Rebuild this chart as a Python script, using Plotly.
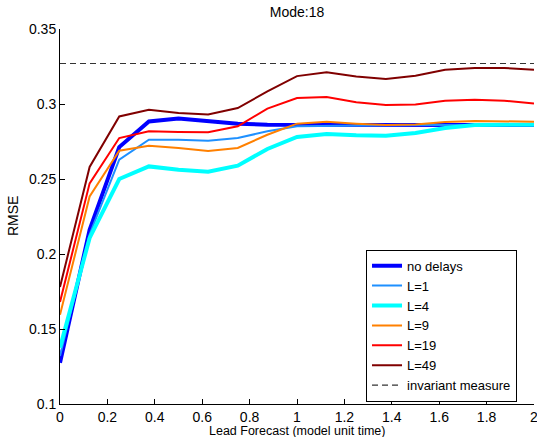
import plotly.graph_objects as go

lead = [0, 0.125, 0.25, 0.375, 0.5, 0.625, 0.75, 0.875, 1.0, 1.125, 1.25, 1.375, 1.5, 1.625, 1.75, 1.875, 2.0]

no_delays = [0.1275, 0.2162, 0.2713, 0.2884, 0.2904, 0.2889, 0.2869, 0.2862, 0.2862, 0.2860, 0.2860, 0.2860, 0.2860, 0.2860, 0.2860, 0.2860, 0.2860]
L1 = [0.1320, 0.2130, 0.2629, 0.2762, 0.2762, 0.2755, 0.2773, 0.2818, 0.2851, 0.2855, 0.2857, 0.2858, 0.2860, 0.2860, 0.2860, 0.2860, 0.2860]
L4 = [0.1375, 0.2107, 0.2500, 0.2584, 0.2562, 0.2549, 0.2589, 0.2700, 0.2780, 0.2800, 0.2791, 0.2789, 0.2807, 0.2840, 0.2860, 0.2860, 0.2862]
L9 = [0.1595, 0.2384, 0.2689, 0.2722, 0.2707, 0.2687, 0.2707, 0.2795, 0.2869, 0.2882, 0.2869, 0.2860, 0.2864, 0.2880, 0.2887, 0.2887, 0.2882]
L19 = [0.1680, 0.2471, 0.2773, 0.2818, 0.2813, 0.2812, 0.2851, 0.2969, 0.3040, 0.3047, 0.3011, 0.2993, 0.2997, 0.3022, 0.3029, 0.3022, 0.3004]
L49 = [0.1780, 0.2580, 0.2917, 0.2962, 0.2940, 0.2930, 0.2973, 0.3084, 0.3186, 0.3211, 0.3184, 0.3167, 0.3189, 0.3229, 0.3240, 0.3240, 0.3229]
invariant = 0.327

x_ticks = [0, 0.2, 0.4, 0.6, 0.8, 1, 1.2, 1.4, 1.6, 1.8, 2]
x_ticktext = ["0", "0.2", "0.4", "0.6", "0.8", "1", "1.2", "1.4", "1.6", "1.8", "2"]
y_ticks = [0.1, 0.15, 0.2, 0.25, 0.3, 0.35]
y_ticktext = ["0.1", "0.15", "0.2", "0.25", "0.3", "0.35"]

series = [
    ("no delays", no_delays, "#0000FF", 4),
    ("L=1", L1, "#1E90FF", 2),
    ("L=4", L4, "#00FFFF", 4),
    ("L=9", L9, "#FF8000", 2),
    ("L=19", L19, "#FF0000", 2),
    ("L=49", L49, "#800000", 2),
]

fig = go.Figure()
for name, vals, col, w in series:
    fig.add_trace(go.Scatter(x=lead, y=vals, mode="lines", name=name,
                             line=dict(color=col, width=w)))
fig.add_trace(go.Scatter(x=[lead[0], lead[-1]], y=[invariant, invariant], mode="lines",
                         name="invariant measure",
                         line=dict(color="#333333", width=1.2, dash="6px,4px")))

font = "Liberation Sans, Arial, Helvetica, sans-serif"
fig.update_layout(
    width=537, height=437,
    margin=dict(l=60, r=3, t=29, b=33, autoexpand=False),
    paper_bgcolor="white", plot_bgcolor="white",
    font=dict(family=font, size=14, color="black"),
    title=dict(text="Mode:18", x=0.553, xanchor="center", xref="container",
               y=0.972, yanchor="middle", yref="container",
               font=dict(size=14, color="black")),
    showlegend=True,
    legend=dict(x=0.6456, y=0.006, xanchor="left", yanchor="bottom",
                bgcolor="white", bordercolor="black", borderwidth=1,
                font=dict(size=13, color="black"), tracegroupgap=0,
                itemwidth=30),
    xaxis=dict(range=[0, 2], tickvals=x_ticks, ticktext=x_ticktext,
               showline=True, linecolor="black", linewidth=1, mirror=False,
               ticks="inside", ticklen=5, tickcolor="black", showgrid=False, zeroline=False,
               automargin=False, ticklabeloverflow="allow", tickfont=dict(size=14)),
    yaxis=dict(range=[0.1, 0.35], tickvals=y_ticks, ticktext=y_ticktext,
               showline=True, linecolor="black", linewidth=1, mirror=False,
               ticks="inside", ticklen=5, tickcolor="black", showgrid=False, zeroline=False,
               automargin=False, ticklabeloverflow="allow", tickfont=dict(size=14)),
    annotations=[
        dict(text="Lead Forecast (model unit time)", xref="paper", yref="paper",
             x=0.499, y=-0.0725, xanchor="center", yanchor="middle", showarrow=False,
             font=dict(size=12.5)),
        dict(text="RMSE", xref="paper", yref="paper", x=-0.1, y=0.5,
             xanchor="center", yanchor="middle", showarrow=False, textangle=-90,
             font=dict(size=14)),
    ],
)

fig.write_html("out.html", config={"displayModeBar": False},
               post_script="document.body.style.margin='0';document.body.style.overflow='hidden';")
